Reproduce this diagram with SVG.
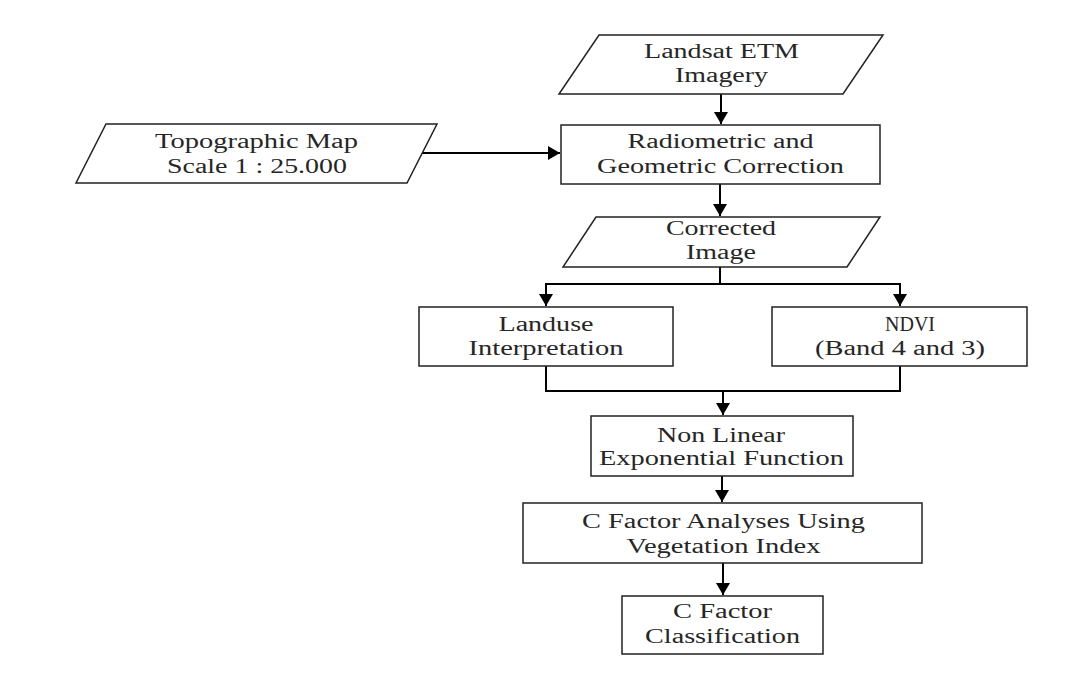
<svg xmlns="http://www.w3.org/2000/svg" width="1078" height="700" viewBox="0 0 1078 700">
<style>
.shape{fill:#fff;stroke:#222;stroke-width:1.5}
.conn{fill:none;stroke:#000;stroke-width:2}
text{font-family:"Liberation Serif","Times New Roman",serif;font-size:20px;fill:#262626;text-anchor:middle}
</style>
<defs>
<marker id="arr" markerUnits="userSpaceOnUse" markerWidth="14" markerHeight="14" refX="12" refY="7" orient="auto">
<path d="M0,0 L12,7 L0,14 z" fill="#000"/>
</marker>
</defs>
<rect width="1078" height="700" fill="#fff"/>
<g id="connectors">
<path class="conn" d="M721 94 V124" marker-end="url(#arr)"/>
<path class="conn" d="M422 153 H560" marker-end="url(#arr)"/>
<path class="conn" d="M720 184 V216" marker-end="url(#arr)"/>
<path class="conn" d="M720 267 V284 H546 V306" marker-end="url(#arr)"/>
<path class="conn" d="M720 284 H900 V306" marker-end="url(#arr)"/>
<path class="conn" d="M546 366 V391 H723 V415" marker-end="url(#arr)"/>
<path class="conn" d="M900 366 V391 H723"/>
<path class="conn" d="M722 476 V502" marker-end="url(#arr)"/>
<path class="conn" d="M723 563 V595" marker-end="url(#arr)"/>
</g>
<g id="landsat">
<polygon class="shape" points="599,35 883,35 843,94 559,94"/>
<text x="721.5" y="58" textLength="155" lengthAdjust="spacingAndGlyphs">Landsat ETM</text>
<text x="721.5" y="82" textLength="93" lengthAdjust="spacingAndGlyphs">Imagery</text>
</g>
<g id="topographic">
<polygon class="shape" points="106,124 437,124 407,183 76,183"/>
<text x="256.5" y="148" textLength="203" lengthAdjust="spacingAndGlyphs">Topographic Map</text>
<text x="257" y="173" textLength="180" lengthAdjust="spacingAndGlyphs">Scale 1 : 25.000</text>
</g>
<g id="correction">
<rect class="shape" x="561" y="125" width="319" height="59"/>
<text x="720.5" y="148" textLength="186" lengthAdjust="spacingAndGlyphs">Radiometric and</text>
<text x="720.5" y="173" textLength="247" lengthAdjust="spacingAndGlyphs">Geometric Correction</text>
</g>
<g id="corrected">
<polygon class="shape" points="596,217 880,217 847,267 563,267"/>
<text x="721" y="235" textLength="110" lengthAdjust="spacingAndGlyphs">Corrected</text>
<text x="721" y="259" textLength="70" lengthAdjust="spacingAndGlyphs">Image</text>
</g>
<g id="landuse">
<rect class="shape" x="419" y="307" width="254" height="59"/>
<text x="546" y="331" textLength="95" lengthAdjust="spacingAndGlyphs">Landuse</text>
<text x="546" y="355" textLength="155" lengthAdjust="spacingAndGlyphs">Interpretation</text>
</g>
<g id="ndvi">
<rect class="shape" x="772" y="307" width="255" height="59"/>
<text x="910" y="331" textLength="50" lengthAdjust="spacingAndGlyphs">NDVI</text>
<text x="900" y="355" textLength="170" lengthAdjust="spacingAndGlyphs">(Band 4 and 3)</text>
</g>
<g id="nonlinear">
<rect class="shape" x="591" y="416" width="262" height="60"/>
<text x="721" y="442" textLength="128" lengthAdjust="spacingAndGlyphs">Non Linear</text>
<text x="721.5" y="465" textLength="245" lengthAdjust="spacingAndGlyphs">Exponential Function</text>
</g>
<g id="cfactor-analyses">
<rect class="shape" x="523" y="503" width="399" height="60"/>
<text x="723.5" y="528" textLength="283" lengthAdjust="spacingAndGlyphs">C Factor Analyses Using</text>
<text x="723.5" y="553" textLength="194" lengthAdjust="spacingAndGlyphs">Vegetation Index</text>
</g>
<g id="cfactor-classification">
<rect class="shape" x="622" y="596" width="201" height="58"/>
<text x="722.5" y="618" textLength="99" lengthAdjust="spacingAndGlyphs">C Factor</text>
<text x="722.5" y="643" textLength="155" lengthAdjust="spacingAndGlyphs">Classification</text>
</g>
</svg>
